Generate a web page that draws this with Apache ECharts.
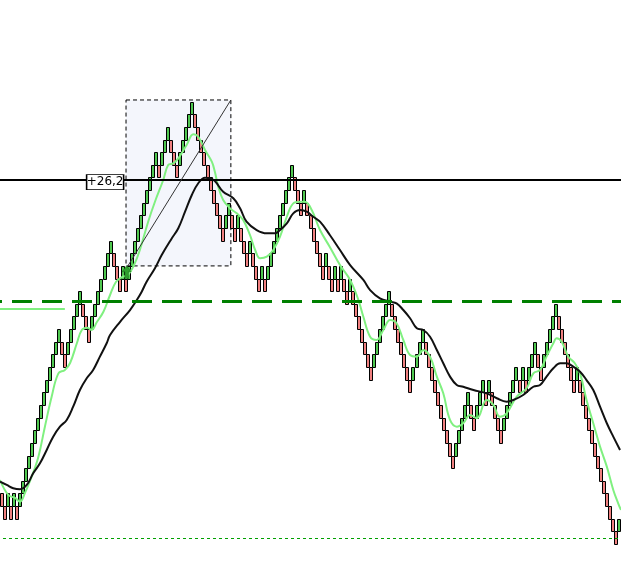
<!DOCTYPE html>
<html><head><meta charset="utf-8">
<script src="https://cdn.jsdelivr.net/npm/echarts@6/dist/echarts.min.js"></script>
<style>html,body{margin:0;padding:0;background:#fff}#c{width:621px;height:569px}</style>
</head><body><div id="c"></div>
<script>
// Renko bricks: starting level and run lengths (+ = up bricks, - = down bricks)
const startLevel = 4;
const brickRuns = [-2, 1, -1, 1, -1, 14, -2, 5, -3, 7, -3, 1, -1, 10, -1, 3, -3, 5, -10,
  2, -2, 1, -3, 1, -3, 1, -1, 9,
  -3, 1, -6, 1, -2, 1, -1, 1, -2, 1, -7,
  6, -7, 4, -10,
  5, -2, 3, -1, 1, -4, 5, -1, 1, -1, 3, -2, 5, -6, 1, -13, 1];

// Moving averages: [brick position, level]
const greenMA = [[-0.5,5.06],[2.23,3.88],[4.47,3.64],[6.1,3.35],[7.72,4.03],[9.95,5.32],[12.18,6.91],[14.32,9.28],[16.55,11.65],[18.78,13.5],[20.91,13.77],[22.64,14.32],[24.87,15.88],[26.5,16.93],[28.32,17.11],[29.74,16.93],[31.47,17.56],[33.6,18.35],[35.83,19.7],[37.76,20.73],[39.79,21.12],[41.72,21.28],[43.74,22.07],[45.67,23.26],[48.41,25.5],[50.65,27.08],[53.39,28.8],[55.01,29.98],[56.73,30.12],[58.36,30.51],[61.1,31.57],[63.33,32.41],[64.95,32.22],[67.18,31.17],[69.42,30.25],[70.43,29.45],[71.55,28.27],[73.17,27.22],[75.4,26.56],[77.64,26.16],[79.77,25.63],[82.0,24.45],[83.73,23.26],[85.35,22.6],[87.58,22.73],[89.71,23.26],[91.94,24.31],[94.18,25.89],[96.31,26.95],[98.54,27.08],[100.17,27.08],[102.4,26.42],[105.14,24.84],[108.38,23.5],[111.73,22.07],[115.08,20.89],[117.82,19.3],[119.45,17.98],[121.68,16.4],[123.81,16.14],[126.04,16.93],[128.28,17.72],[130.4,17.46],[132.64,16.14],[134.87,14.95],[137.1,14.82],[139.23,15.35],[141.46,14.82],[143.7,13.24],[145.83,11.92],[148.06,9.81],[150.29,9.28],[152.42,9.55],[154.66,10.21],[156.89,9.94],[160.14,11.39],[162.37,11.0],[164.5,10.07],[166.73,10.34],[170.08,11.65],[173.33,12.32],[175.56,13.5],[177.79,13.77],[179.92,14.82],[182.16,15.88],[183.27,16.27],[184.9,16.0],[187.13,14.82],[189.26,14.3],[190.98,13.5],[193.12,11.39],[195.35,9.55],[197.58,7.7],[199.82,6.12],[201.95,4.27],[203.57,3.22],[204.48,2.69]];
const blackMA = [[-0.5,4.93],[1.73,4.67],[3.87,4.41],[6.1,4.33],[8.33,4.67],[10.46,5.59],[12.69,6.38],[14.92,7.44],[17.06,8.49],[19.29,9.28],[21.52,9.81],[23.65,10.86],[25.88,12.18],[28.12,13.11],[30.25,13.77],[32.48,14.82],[34.71,15.88],[35.83,16.53],[39.08,17.56],[42.42,18.51],[44.66,19.3],[46.28,19.96],[47.9,20.75],[50.65,21.81],[52.88,22.86],[56.23,24.19],[58.36,24.98],[60.59,26.29],[62.82,27.61],[64.95,28.54],[67.18,28.98],[68.81,28.93],[70.43,28.72],[73.17,27.87],[76.52,27.35],[78.75,26.56],[80.88,25.5],[84.23,24.84],[87.58,24.58],[90.32,24.58],[91.94,24.84],[94.18,25.37],[96.31,26.16],[98.54,26.42],[100.77,26.29],[102.9,25.89],[105.14,25.5],[108.38,24.45],[111.73,23.26],[115.08,22.07],[119.45,20.89],[121.68,20.09],[124.92,19.44],[128.28,19.17],[130.4,19.04],[132.64,18.51],[134.87,17.86],[137.1,17.06],[139.23,16.93],[141.46,16.4],[143.7,15.35],[145.83,14.3],[148.06,13.24],[150.29,12.58],[152.42,12.44],[155.78,12.18],[160.14,11.92],[163.49,11.53],[166.73,11.26],[168.97,11.39],[172.21,11.79],[175.56,12.44],[177.79,12.58],[179.92,13.24],[182.16,13.9],[184.39,14.3],[186.52,14.3],[188.75,14.03],[190.98,13.63],[193.12,12.97],[195.35,12.18],[197.58,10.86],[199.82,9.55],[201.95,8.49],[204.18,7.44]];

// Horizontal levels and annotations (brick position, level)
const solidLevel = 28.8;
const dashedLevel = 19.22;
const dottedLevel = 0.47;
const shortLine = [[-0.5, 18.59], [20.91, 18.59]];
const boxCorners = [[41.1, 35.13], [75.71, 22.0]];
const diagonal = [[41.72, 22.0], [75.71, 35.13]];
const arrowAt = [41.3, 21.5];
const tagAt = [34.2, 28.63];
const tagText = '+26,2';

const bricks = [];
let c = startLevel, dir = -1;
for (const r of brickRuns) {
  const d = Math.sign(r);
  for (let k = 0; k < Math.abs(r); k++) {
    let o, cl;
    if (d === dir) { o = c; cl = c + d; } else { o = c + d; cl = c + 2 * d; dir = d; }
    bricks.push([bricks.length, o, cl]);
    c = cl;
  }
}
const N = bricks.length;

function renderBrick(params, api) {
  const i = api.value(0), o = api.value(1), cl = api.value(2);
  const pTop = api.coord([i, Math.max(o, cl)]);
  const pBot = api.coord([i, Math.min(o, cl)]);
  const X = Math.round(pTop[0] - 2);
  const yT = Math.round(pTop[1]), yB = Math.round(pBot[1]);
  return {
    type: 'rect',
    shape: { x: X + 0.5, y: yT + 0.5, width: 3, height: yB - yT },
    style: { fill: cl > o ? '#50c850' : '#f08080', stroke: '#000', lineWidth: 1 }
  };
}

const chart = echarts.init(document.getElementById('c'));
chart.setOption({
  animation: false,
  grid: { left: 0, right: 0, top: 0, bottom: 0 },
  xAxis: [
    { type: 'category', data: bricks.map(b => b[0]), show: false, boundaryGap: true },
    { type: 'value', min: -0.5, max: N - 0.5, show: false }
  ],
  yAxis: { type: 'value', min: -1.98, max: 43.04, show: false, splitLine: { show: false } },
  series: [
    {
      type: 'line', xAxisIndex: 1, data: [], z: 0, silent: true,
      markArea: {
        silent: true,
        itemStyle: { color: '#f4f6fc', borderColor: '#000', borderWidth: 1, borderType: [4, 3] },
        data: [[{ coord: boxCorners[0] }, { coord: boxCorners[1] }]]
      }
    },
    {
      type: 'custom', data: bricks, renderItem: renderBrick, z: 2, silent: true,
      encode: { x: 0, y: [1, 2] }
    },
    { type: 'line', xAxisIndex: 1, data: greenMA, smooth: 0.4, symbol: 'none', lineStyle: { color: '#80f080', width: 2 }, z: 3, silent: true },
    { type: 'line', xAxisIndex: 1, data: blackMA, smooth: 0.4, symbol: 'none', lineStyle: { color: '#111', width: 2 }, z: 3, silent: true },
    {
      type: 'line', xAxisIndex: 1, data: [], z: 4, silent: true,
      markLine: {
        silent: true, symbol: ['none', 'none'], label: { show: false },
        data: [
          { yAxis: solidLevel, lineStyle: { color: '#000', width: 2, type: 'solid' } },
          { yAxis: dashedLevel, lineStyle: { color: '#008000', width: 3, type: [20, 10], dashOffset: 18 } },
          { yAxis: dottedLevel, lineStyle: { color: '#00a000', width: 1, type: [3, 3], dashOffset: 3 } },
          [{ coord: shortLine[0], lineStyle: { color: '#80f080', width: 2, type: 'solid' } }, { coord: shortLine[1] }],
          [{ coord: diagonal[0], lineStyle: { color: '#333', width: 1, type: 'solid' } }, { coord: diagonal[1] }]
        ]
      },
      markPoint: {
        silent: true,
        data: [
          { coord: arrowAt, symbol: 'path://M5,0 L10,6 L7,6 L7,13 L3,13 L3,6 L0,6 Z', symbolSize: [9, 13], itemStyle: { color: '#2e9e2e', borderColor: '#1a6a1a', borderWidth: 0.5 }, label: { show: false } },
          { coord: tagAt, symbol: 'rect', symbolSize: [37, 15], itemStyle: { color: '#fff', borderColor: '#000', borderWidth: 1 },
            label: { show: true, position: 'inside', formatter: tagText, color: '#000', fontSize: 12, fontFamily: 'DejaVu Sans' } }
        ]
      }
    }
  ]
});
</script>
</body></html>
